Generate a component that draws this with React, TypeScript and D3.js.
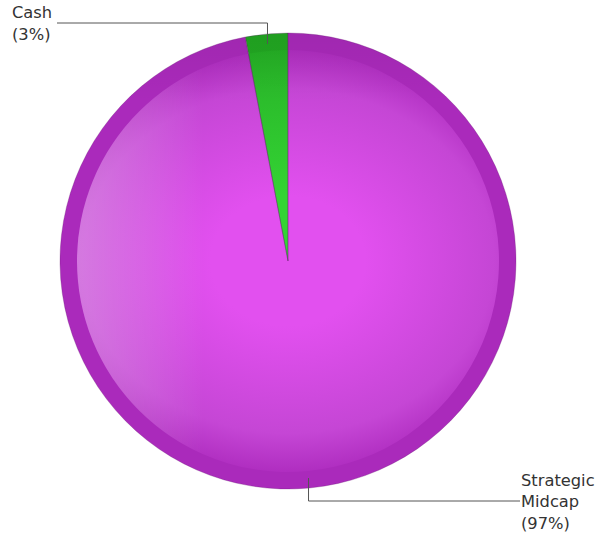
import React from "react";
import * as d3 from "d3";

const categories = ["Strategic Midcap", "Cash"];
const values = [97, 3];
const labelLines = [["Strategic", "Midcap", "(97%)"], ["Cash", "(3%)"]];
const ringColors = ["#aa2abb", "#22a822"];
const centerColors = ["#e250ef", "#34d434"];
const midColors = ["#c546d5", "#2bbb2b"];
const edgeColors = ["#ad2bbe", "#24ae24"];

const W = 597, H = 538;
const cx = 288, cy = 261, R = 228, RING = 17;

export default function App() {
  const pie = d3.pie<number>().sort(null).startAngle(0).endAngle(2 * Math.PI);
  const arcs = pie(values);
  const outerArc = d3.arc<d3.PieArcDatum<number>>().innerRadius(0).outerRadius(R);
  const ri = R - RING;
  const innerArc = d3.arc<d3.PieArcDatum<number>>().innerRadius(0).outerRadius(ri);

  return (
    <svg width={W} height={H} style={{ position: "absolute", left: 0, top: 0 }}
      fontFamily="'DejaVu Sans', Verdana, sans-serif">
      <defs>
        {categories.map((c, i) => (
          <radialGradient key={c} id={`g${i}`} gradientUnits="userSpaceOnUse" cx={0} cy={0} r={ri}
            gradientTransform="scale(1.22,1.02)">
            <stop offset="0" stopColor={centerColors[i]} />
            <stop offset="0.3" stopColor={centerColors[i]} />
            <stop offset="0.8" stopColor={midColors[i]} />
            <stop offset="1" stopColor={edgeColors[i]} />
          </radialGradient>
        ))}
        <linearGradient id="hl" gradientUnits="userSpaceOnUse" x1={-ri} y1={0} x2={ri} y2={0}>
          <stop offset="0" stopColor="#ffffff" stopOpacity="0.28" />
          <stop offset="0.3" stopColor="#ffffff" stopOpacity="0" />
          <stop offset="1" stopColor="#ffffff" stopOpacity="0" />
        </linearGradient>
        <linearGradient id="topShade" gradientUnits="userSpaceOnUse" x1={0} y1={-R} x2={0} y2={0}>
          <stop offset="0" stopColor="#000000" stopOpacity="0.06" />
          <stop offset="0.3" stopColor="#000000" stopOpacity="0" />
        </linearGradient>
      </defs>
      <g transform={`translate(${cx},${cy})`}>
        {arcs.map((a, i) => (
          <path key={"o" + i} d={outerArc(a) || ""} fill={ringColors[i]} />
        ))}
        {arcs.map((a, i) => (
          <path key={"in" + i} d={innerArc(a) || ""} fill={`url(#g${i})`} />
        ))}
        <circle r={ri} fill="url(#hl)" />
        <circle r={R} fill="url(#topShade)" />
        {arcs.map((a, i) => (
          <path key={"s" + i} d={outerArc(a) || ""} fill="none"
            stroke="#6a1f75" strokeOpacity="0.5" strokeWidth={0.6} />
        ))}
      </g>
      {arcs.map((a, i) => {
        const mid = (a.startAngle + a.endAngle) / 2;
        const px = cx + Math.sin(mid) * (R - 10);
        const py = cy - Math.cos(mid) * (R - 10);
        const up = Math.cos(mid) > 0;
        const ey = up ? cy - (R + 10) : cy + (R + 12);
        const left = Math.sin(mid) < 0;
        const ex = left ? 57 : 520;
        const tx = left ? 12 : 521;
        const lines = labelLines[i];
        const lh = 21.5;
        const firstBase = ey - ((lines.length - 1) * lh) / 2 + 6;
        return (
          <g key={"l" + i}>
            <polyline points={`${px},${py} ${px},${ey} ${ex},${ey}`} fill="none" stroke="#555" strokeWidth={1} />
            <text x={tx} fill="#333" fontSize={16.3}>
              {lines.map((t, j) => (
                <tspan key={j} x={tx} y={firstBase + j * lh}>{t}</tspan>
              ))}
            </text>
          </g>
        );
      })}
    </svg>
  );
}
